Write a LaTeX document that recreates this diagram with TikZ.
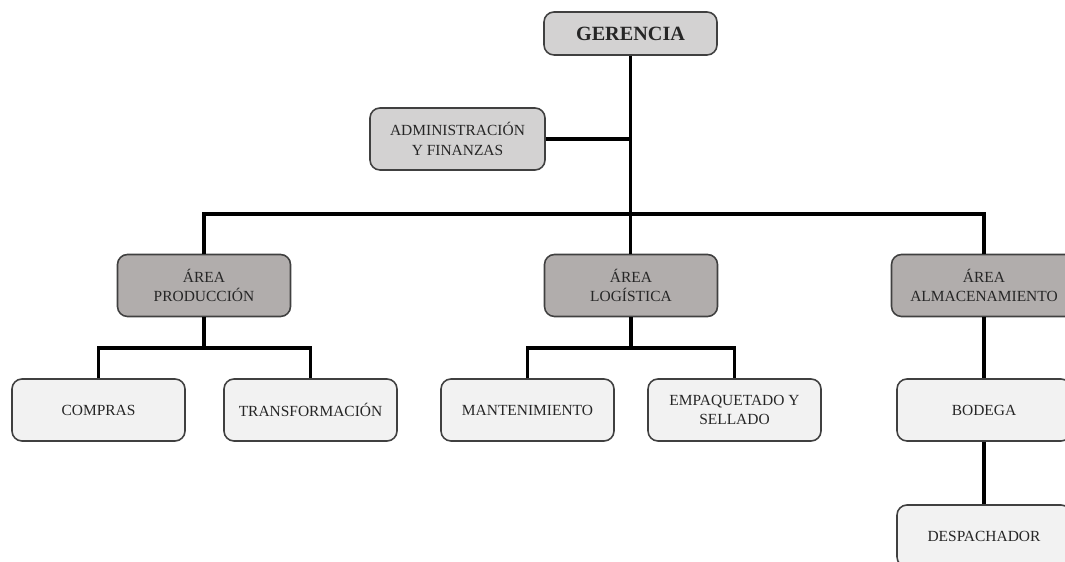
\documentclass[tikz,border=0pt]{standalone}
\usepackage{fontspec}
\setmainfont{Liberation Serif}
\usepackage{tikz}
\usetikzlibrary{positioning, calc}

\definecolor{boxtop}{HTML}{D3D2D2}
\definecolor{boxarea}{HTML}{B1ADAC}
\definecolor{boxsub}{HTML}{F2F2F2}
\definecolor{boxline}{HTML}{404040}

\tikzset{
  unit/.style={draw=boxline, line width=0.9pt, rounded corners=0.2cm, align=center,
    minimum width=3.46cm, minimum height=1.24cm, inner sep=2pt,
    font=\fontsize{8.8}{11}\selectfont, text=black!85},
  topunit/.style={unit, fill=boxtop},
  areaunit/.style={unit, fill=boxarea},
  subunit/.style={unit, fill=boxsub},
  conn/.style={line width=1.8pt, black}
}

\begin{document}
\begin{tikzpicture}

\useasboundingbox (0,0) rectangle (21.3,-11.24);

% direccion
\node[topunit, minimum height=0.86cm, font=\fontsize{11.5}{13}\selectfont\bfseries] (ger) at (12.61,-0.67) {GERENCIA};
\node[topunit, minimum width=3.5cm] (adm) at (9.15,-2.78) {ADMINISTRACIÓN\\Y FINANZAS};

% areas
\node[areaunit] (prod) at (4.08,-5.71) {ÁREA\\PRODUCCIÓN};
\node[areaunit] (log) at (12.62,-5.71) {ÁREA\\LOGÍSTICA};
\node[areaunit, minimum width=3.7cm] (alm) at (19.68,-5.71) {ÁREA\\ALMACENAMIENTO};

% secciones
\node[subunit] (comp) at (1.97,-8.2) {COMPRAS};
\node[subunit] (trf) at (6.21,-8.2) {TRANSFORMACIÓN};
\node[subunit] (mant) at (10.55,-8.2) {MANTENIMIENTO};
\node[subunit] (emp) at (14.69,-8.2) {EMPAQUETADO Y\\SELLADO};
\node[subunit, minimum width=3.48cm] (bod) at (19.68,-8.2) {BODEGA};
\node[subunit, minimum width=3.48cm] (desp) at (19.68,-10.72) {DESPACHADOR};

% uniones
\coordinate (bar) at (12.61,-4.28);
\coordinate (pj) at (4.08,-6.96);
\coordinate (lj) at (12.62,-6.96);

\draw[conn] (ger.south) -- (bar);
\draw[conn] (adm.east) -- (adm.east -| bar);
\draw[conn] (prod.north) |- (bar) -| (alm.north);
\draw[conn] (bar) -- (bar |- log.north);

\draw[conn] (prod) -- (pj);
\draw[conn] (comp.north) |- (pj) -| (trf.north);
\draw[conn] (log) -- (lj);
\draw[conn] (mant.north) |- (lj) -| (emp.north);

\draw[conn] (alm) -- (bod);
\draw[conn] (bod) -- (desp);

\end{tikzpicture}
\end{document}
